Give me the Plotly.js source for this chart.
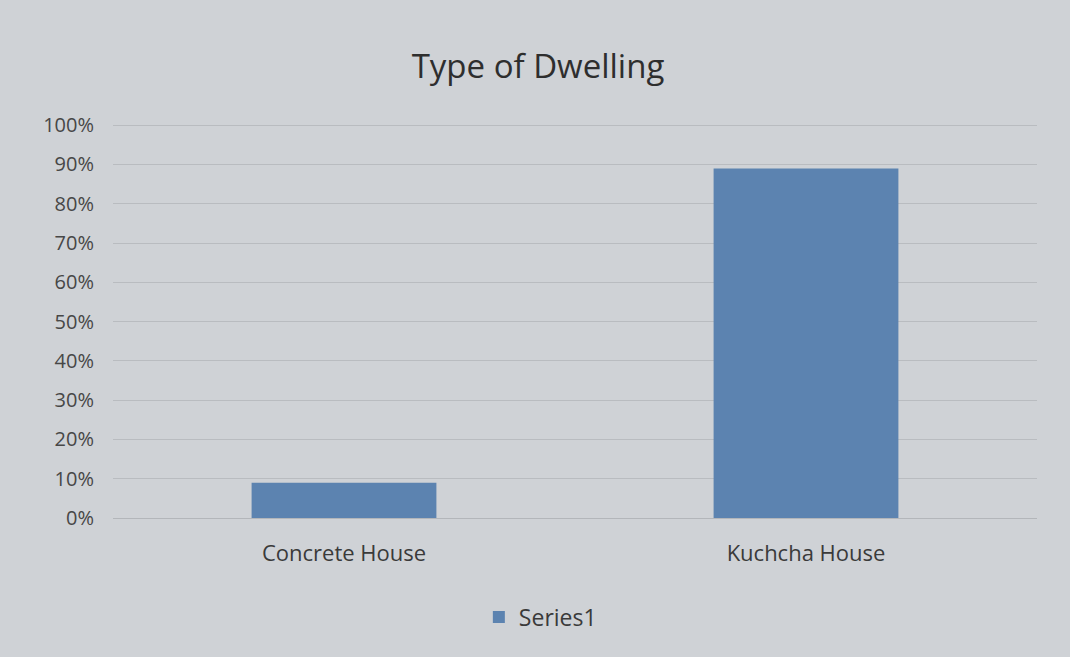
<!DOCTYPE html>
<html>
<head>
<meta charset="utf-8">
<script src="https://cdn.plot.ly/plotly-3.0.1.min.js"></script>
<style>html,body{margin:0;padding:0;background:#cdd0d4;}#chart{width:1070px;height:657px;}</style>
</head>
<body>
<div id="chart"></div>
<script>
const categories = ["Concrete House", "Kuchcha House"];
const series1 = [0.09, 0.89];
const seriesName = "Series1";
const chartTitle = "Type of Dwelling";
const tickVals = [0, 0.1, 0.2, 0.3, 0.4, 0.5, 0.6, 0.7, 0.8, 0.9, 1.0];
const tickLabels = ["0%", "10%", "20%", "30%", "40%", "50%", "60%", "70%", "80%", "90%", "100%"];

const font = "Open Sans, Lato, DejaVu Sans, sans-serif";

Plotly.newPlot("chart", [{
  type: "bar",
  x: categories,
  y: series1,
  name: seriesName,
  marker: {color: "#5c83b0"},
  showlegend: true
}], {
  width: 1070, height: 657,
  paper_bgcolor: "#cfd2d6",
  plot_bgcolor: "#cfd2d6",
  margin: {l: 113, r: 33, t: 124, b: 139},
  bargap: 0.6,
  title: {text: chartTitle, x: 538/1070, xref: "container", xanchor: "center",
          y: 1 - 66/657, yanchor: "middle",
          font: {family: font, size: 33, color: "#2e2e2e"}},
  xaxis: {
    showgrid: false, zeroline: false, showline: false,
    ticks: "", ticklabelstandoff: 20,
    tickfont: {family: font, size: 22, color: "#3a3a3a"}
  },
  yaxis: {
    range: [0, 1.003], tickvals: tickVals, ticktext: tickLabels,
    showgrid: true, gridcolor: "#b9bcc0", gridwidth: 1,
    zeroline: true, zerolinecolor: "#b3b6ba", zerolinewidth: 1,
    showline: false, ticks: "", ticklabelstandoff: 18,
    tickfont: {family: font, size: 20, color: "#474747"}
  },
  legend: {orientation: "h", xref: "container", yref: "container",
           x: 0.505, xanchor: "center", y: 1 - 617/657, yanchor: "middle",
           font: {family: font, size: 23, color: "#3a3a3a"}, itemwidth: 30,
           bgcolor: "rgba(0,0,0,0)"}
}, {displayModeBar: false, staticPlot: true});
</script>
</body>
</html>
